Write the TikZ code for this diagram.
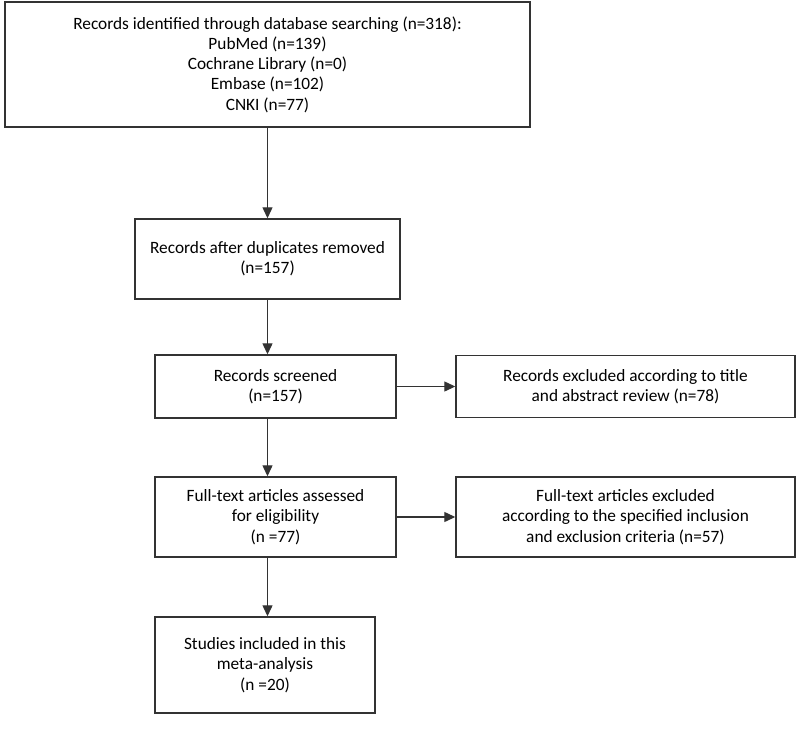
\documentclass[tikz,border=0pt]{standalone}
\usepackage{fontspec}
\setmainfont{Carlito}
\usetikzlibrary{arrows.meta,positioning}

\begin{document}
\begin{tikzpicture}[x=1pt,y=-1pt,>={Triangle[length=11pt,width=10pt]},
    line width=1.2pt,draw=black!80,
    box/.style={draw=black!80,line width=1.4pt,align=center,inner sep=0pt,
      font=\fontsize{17.3}{20.3}\selectfont}]
    \useasboundingbox (0,0) rectangle (800,736);

    \node[box,minimum width=525pt,minimum height=125pt] (db) at (267.5,64.5)
      {Records identified through database searching (n=318):\\PubMed (n=139)\\Cochrane Library (n=0)\\Embase (n=102)\\CNKI (n=77)};
    \node[box,minimum width=265pt,minimum height=80pt] (dup) at (267.5,259)
      {Records after duplicates removed\\(n=157)};
    \node[box,minimum width=241pt,minimum height=63pt] (scr) at (275.5,386.5)
      {Records screened\\(n=157)};
    \node[box,minimum width=339pt,minimum height=62pt] (exc1) at (625.5,386.5)
      {Records excluded according to title\\and abstract review (n=78)};
    \node[box,minimum width=241pt,minimum height=80pt] (full) at (275.5,517)
      {Full-text articles assessed\\for eligibility\\(n =77)};
    \node[box,minimum width=339pt,minimum height=80pt] (exc2) at (625.5,517)
      {Full-text articles excluded\\according to the specified inclusion\\and exclusion criteria (n=57)};
    \node[box,minimum width=220pt,minimum height=96pt] (incl) at (265,665)
      {Studies included in this\\meta-analysis\\(n =20)};

    \draw[->] (db.south) -- (dup.north);
    \draw[->] (dup.south) -- (dup.south |- scr.north);
    \draw[->] (dup.south |- scr.south) -- (dup.south |- full.north);
    \draw[->] (dup.south |- full.south) -- (dup.south |- incl.north);
    \draw[->] (scr.east) -- (exc1.west);
    \draw[->] (full.east) -- (exc2.west);
  \end{tikzpicture}
\end{document}
